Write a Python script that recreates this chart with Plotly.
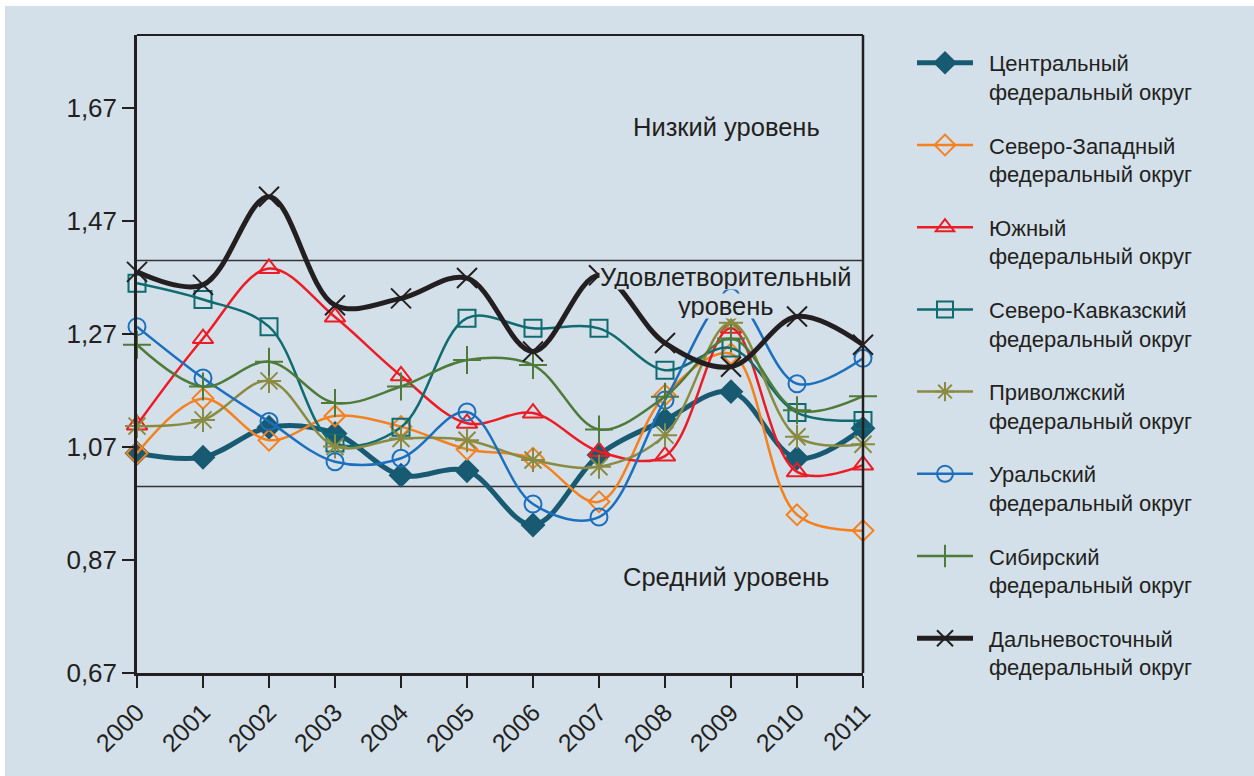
import plotly.graph_objects as go

# Years on the horizontal axis
years = list(range(2000, 2012))
year_labels = [str(y) for y in years]

# Index values by federal district
central = [1.059, 1.052, 1.105, 1.094, 1.020, 1.028, 0.932, 1.056, 1.118, 1.168, 1.050, 1.103]
northwest = [1.059, 1.156, 1.082, 1.125, 1.106, 1.066, 1.050, 0.973, 1.162, 1.235, 0.950, 0.922]
south = [1.109, 1.262, 1.386, 1.300, 1.196, 1.112, 1.130, 1.062, 1.054, 1.280, 1.026, 1.038]
ncaucasus = [1.360, 1.331, 1.283, 1.077, 1.105, 1.298, 1.280, 1.280, 1.206, 1.245, 1.131, 1.117]
volga = [1.107, 1.118, 1.187, 1.071, 1.085, 1.082, 1.047, 1.035, 1.091, 1.290, 1.088, 1.075]
ural = [1.283, 1.192, 1.115, 1.044, 1.050, 1.132, 0.969, 0.946, 1.153, 1.335, 1.182, 1.227]
siberia = [1.251, 1.177, 1.221, 1.148, 1.177, 1.224, 1.215, 1.101, 1.159, 1.262, 1.135, 1.160]
fareast = [1.380, 1.357, 1.513, 1.321, 1.333, 1.369, 1.239, 1.374, 1.254, 1.212, 1.301, 1.251]

# Level boundaries and y tick values
upper_bound = 1.40
lower_bound = 1.00
y_ticks = [0.67, 0.87, 1.07, 1.27, 1.47, 1.67]

BG = "#d4e0e9"
TEXT = "#231f20"
FONT = "Liberation Sans Narrow, Arial Narrow, Liberation Sans, sans-serif"
IND = "\u2002"  # small indent between legend symbol and label

series = [
    ("Центральный", central, "#175a72", 5, "diamond", 17),
    ("Северо-Западный", northwest, "#f4811f", 2.5, "diamond-open", 16),
    ("Южный", south, "#ec1c24", 2.5, "triangle-up-open", 18),
    ("Северо-Кавказский", ncaucasus, "#0f6b70", 2.5, "square-open", 17),
    ("Приволжский", volga, "#8a8b43", 2.5, "asterisk-open", 20),
    ("Уральский", ural, "#1c6fbd", 2.5, "circle-open", 17),
    ("Сибирский", siberia, "#4e7a3a", 2.5, "cross-thin-open", 20),
    ("Дальневосточный", fareast, "#231f20", 5, "x-thin-open", 20),
]

fig = go.Figure()
for i, (name, vals, color, lw, sym, ms) in enumerate(series):
    label = IND + name + "<br>" + IND + "федеральный округ"
    fig.add_trace(go.Scatter(
        x=years, y=vals, name=label, mode="lines+markers",
        line=dict(color=color, width=lw, shape="spline", smoothing=1.0),
        marker=dict(symbol=sym, size=ms, color=color,
                    line=dict(color=color, width=2)),
        cliponaxis=False, legendgroup=f"g{i}",
    ))

# Boundaries between levels
for yv in (upper_bound, lower_bound):
    fig.add_shape(type="line", xref="paper", x0=0, x1=1, yref="y", y0=yv, y1=yv,
                  line=dict(color="#333333", width=1.5), layer="below")

# Frame: top and right borders
fig.add_shape(type="line", xref="paper", yref="paper", x0=0, x1=1, y0=1, y1=1,
              line=dict(color=TEXT, width=2))
fig.add_shape(type="line", xref="paper", yref="paper", x0=1, x1=1, y0=0, y1=1,
              line=dict(color=TEXT, width=2.5))

# White edge strips along the left and top of the page
L, R, T, B = 137, 391, 35, 103
W, H = 1254, 776
pw, ph = W - L - R, H - T - B
def px(x):
    return (x - L) / pw
def py(y):
    return (H - B - y) / ph
fig.add_shape(type="rect", xref="paper", yref="paper", x0=px(-2), x1=px(5), y0=py(H + 2), y1=py(-2),
              fillcolor="white", line=dict(width=0), layer="below")
fig.add_shape(type="rect", xref="paper", yref="paper", x0=px(-2), x1=px(W + 2), y0=py(6), y1=py(-2),
              fillcolor="white", line=dict(width=0), layer="below")

ann_font = dict(family=FONT, size=25.5, color=TEXT)
fig.add_annotation(x=2008.93, y=1.636, xref="x", yref="y", text="Низкий уровень",
                   showarrow=False, font=ann_font)
fig.add_annotation(x=2008.93, y=1.371, xref="x", yref="y", text="Удовлетворительный",
                   showarrow=False, font=ann_font, bgcolor=BG, borderpad=0, height=24)
fig.add_annotation(x=2008.93, y=1.319, xref="x", yref="y", text="уровень",
                   showarrow=False, font=ann_font, bgcolor=BG, borderpad=0, height=24)
fig.add_annotation(x=2008.93, y=0.840, xref="x", yref="y", text="Средний уровень",
                   showarrow=False, font=ann_font)

fig.update_xaxes(
    range=[2000, 2011], tickmode="array", tickvals=years, ticktext=year_labels,
    tickangle=-45, ticks="outside", ticklen=12, tickwidth=2, tickcolor=TEXT,
    showline=True, linecolor=TEXT, linewidth=2.5, showgrid=False, zeroline=False,
    tickfont=dict(family=FONT, size=25, color=TEXT),
)
fig.update_yaxes(
    range=[0.67, 0.67 + (H - B - T) / 565.0], tickmode="array", tickvals=y_ticks,
    tickformat=".2f", ticks="outside", ticklen=12, tickwidth=2, tickcolor=TEXT,
    showline=True, linecolor=TEXT, linewidth=2.5, showgrid=False, zeroline=False,
    tickfont=dict(family=FONT, size=26, color=TEXT), ticklabelstandoff=0,
)

fig.update_layout(
    width=W, height=H, separators=", ",
    margin=dict(l=L, r=R, t=T, b=B, pad=0),
    paper_bgcolor=BG, plot_bgcolor=BG,
    font=dict(family=FONT, color=TEXT),
    legend=dict(x=px(912), xanchor="left", y=py(42), yanchor="top",
                font=dict(family=FONT, size=22, color=TEXT),
                bgcolor="rgba(0,0,0,0)", tracegroupgap=22, itemwidth=56,
                valign="top", maxheight=740),
    showlegend=True,
)

fig.write_html("out.html")
